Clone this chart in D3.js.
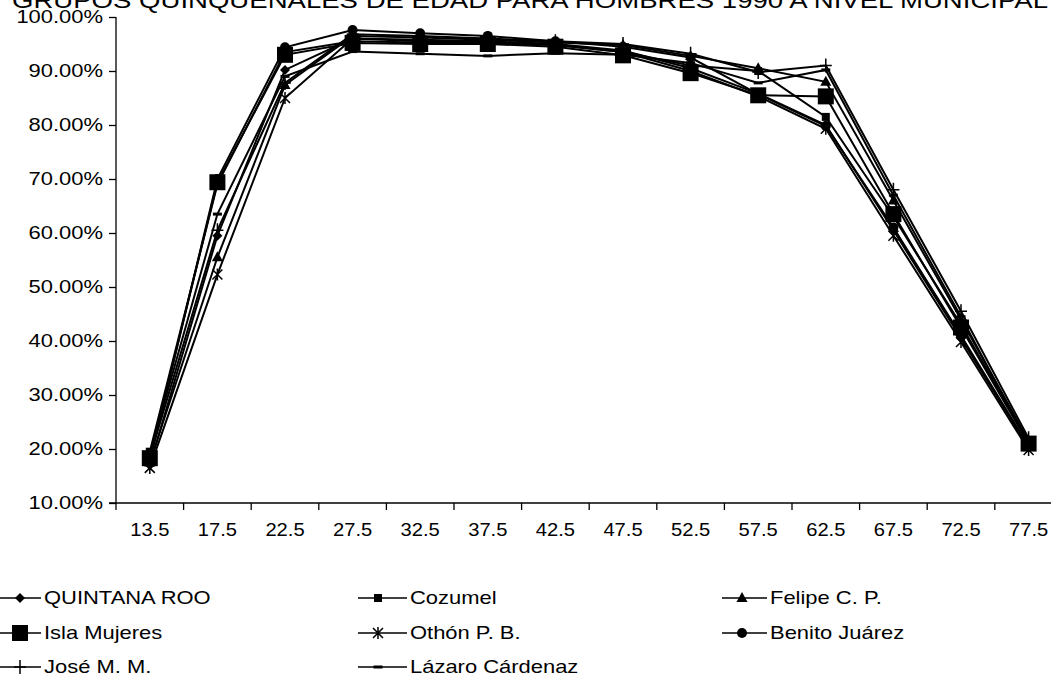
<!DOCTYPE html>
<html><head><meta charset="utf-8">
<script src="https://cdn.jsdelivr.net/npm/d3@7"></script>
<style>body{margin:0;background:#fff}svg{display:block}text{font-family:"Liberation Sans",Arial,sans-serif;fill:#000}</style>
</head><body>
<svg id="c" width="1051" height="682"></svg>
<script>
const titleText = "GRUPOS QUINQUENALES DE EDAD PARA HOMBRES 1990 A NIVEL MUNICIPAL";
const categories = ["13.5","17.5","22.5","27.5","32.5","37.5","42.5","47.5","52.5","57.5","62.5","67.5","72.5","77.5"];
const yTicks = [10,20,30,40,50,60,70,80,90,100];
const seriesNames = ["QUINTANA ROO","Cozumel","Felipe C. P.","Isla Mujeres","Othón P. B.","Benito Juárez","José M. M.","Lázaro Cárdenaz"];
const seriesMarkers = ["diamond","smallsquare","triangle","bigsquare","asterisk","circle","plus","dash"];
const quintanaRoo = [17.0,59.5,90.2,96.0,95.8,95.5,95.0,93.8,90.5,85.8,80.0,60.5,40.5,20.3];
const cozumel     = [19.5,69.0,93.5,95.5,95.3,95.2,94.8,93.5,91.0,90.0,81.5,63.0,43.0,21.3];
const felipe      = [17.5,55.5,87.4,96.5,96.2,95.8,95.3,94.8,92.8,90.5,88.0,66.0,44.0,21.5];
const islaMujeres = [18.3,69.4,93.0,95.2,95.0,95.0,94.5,92.9,89.6,85.5,85.3,63.5,42.5,21.0];
const othon       = [16.5,52.3,85.0,96.0,95.5,95.3,94.8,93.5,90.0,85.3,79.3,59.5,39.8,19.8];
const benito      = [17.8,70.0,94.4,97.6,97.0,96.5,95.5,94.5,92.5,85.7,79.8,61.0,41.0,20.5];
const jose        = [18.5,60.5,87.8,96.8,96.5,96.0,95.5,95.0,93.2,89.8,91.0,68.0,45.5,22.0];
const lazaro      = [19.0,63.5,89.0,93.6,93.2,92.8,93.3,93.0,91.5,87.8,90.2,67.0,44.5,21.0];
const seriesValues = [quintanaRoo,cozumel,felipe,islaMujeres,othon,benito,jose,lazaro];

const svg = d3.select("#c");
const x = d3.scaleBand().domain(categories).range([116, 1062.4]);
const y = d3.scaleLinear().domain([10,100]).range([503,17]);
const FS = 18, SX = 1.22;

// title (cropped at top)
svg.append("text").attr("x",12).attr("y",8).attr("font-size",22)
  .attr("textLength",1036).attr("lengthAdjust","spacingAndGlyphs").text(titleText);

// y axis
const yAxis = svg.append("g").attr("transform","translate(116,0)")
  .call(d3.axisLeft(y).tickValues(yTicks).tickSize(7).tickPadding(6).tickFormat(d=>d3.format(".2f")(d)+"%"));
yAxis.selectAll("text").attr("font-size",FS).attr("font-family",null)
  .attr("x",-13/SX).attr("transform",`scale(${SX},1)`);
yAxis.select(".domain").attr("d","M0,17V503").attr("stroke","#000").attr("stroke-width",1.3);
yAxis.selectAll(".tick line").attr("stroke","#000").attr("stroke-width",1.3);

// x axis
const xg = svg.append("g").attr("transform","translate(0,503)");
xg.append("line").attr("x1",109).attr("x2",1051).attr("stroke","#000").attr("stroke-width",1.3);
const bounds = categories.map(c=>x(c));
xg.selectAll("line.t").data(bounds).join("line").attr("class","t")
  .attr("x1",d=>d).attr("x2",d=>d).attr("y1",0).attr("y2",7).attr("stroke","#000").attr("stroke-width",1.3);
xg.selectAll("text").data(categories).join("text")
  .attr("transform",d=>`translate(${x(d)+x.bandwidth()/2},33) scale(1.12,1)`)
  .attr("text-anchor","middle").attr("font-size",FS).text(d=>d);

function marker(g, type, cx, cy){
  switch(type){
    case "diamond": g.append("path").attr("d",`M${cx},${cy-5}L${cx+5},${cy}L${cx},${cy+5}L${cx-5},${cy}Z`).attr("fill","#000"); break;
    case "smallsquare": g.append("rect").attr("x",cx-4).attr("y",cy-4).attr("width",8).attr("height",8).attr("fill","#000"); break;
    case "triangle": g.append("path").attr("d",`M${cx},${cy-6}L${cx+5.5},${cy+4}L${cx-5.5},${cy+4}Z`).attr("fill","#000"); break;
    case "bigsquare": g.append("rect").attr("x",cx-8).attr("y",cy-8).attr("width",16).attr("height",16).attr("fill","#000"); break;
    case "asterisk": g.append("path").attr("d",`M${cx-5},${cy-5}L${cx+5},${cy+5}M${cx-5},${cy+5}L${cx+5},${cy-5}M${cx},${cy-6}V${cy+6}`).attr("stroke","#000").attr("stroke-width",1.5).attr("fill","none"); break;
    case "circle": g.append("circle").attr("cx",cx).attr("cy",cy).attr("r",5).attr("fill","#000"); break;
    case "plus": g.append("path").attr("d",`M${cx-6},${cy}H${cx+6}M${cx},${cy-7}V${cy+7}`).attr("stroke","#000").attr("stroke-width",1.5).attr("fill","none"); break;
    case "dash": g.append("rect").attr("x",cx-4.5).attr("y",cy-1.5).attr("width",9).attr("height",3).attr("fill","#000"); break;
  }
}

const line = d3.line().x((d,i)=>x(categories[i])+x.bandwidth()/2).y(d=>y(d));
seriesValues.forEach((vals,si)=>{
  const g = svg.append("g");
  g.append("path").attr("d",line(vals)).attr("fill","none").attr("stroke","#000").attr("stroke-width",2);
  vals.forEach((v,i)=>marker(g, seriesMarkers[si], x(categories[i])+x.bandwidth()/2, y(v)));
});

// legend
const markX = [20,378,742];
const textX = [44,410,770];
const rowY = [598,633,667];
seriesNames.forEach((n,i)=>{
  const c = i%3, cy = rowY[Math.floor(i/3)];
  const g = svg.append("g");
  g.append("line").attr("x1",markX[c]-20).attr("x2",textX[c]-3).attr("y1",cy).attr("y2",cy).attr("stroke","#000").attr("stroke-width",1.5);
  marker(g, seriesMarkers[i], markX[c], cy);
  g.append("text").attr("transform",`translate(${textX[c]},${cy}) scale(${SX},1)`).attr("dy","0.35em").attr("font-size",FS).text(n);
});
</script>
</body></html>
